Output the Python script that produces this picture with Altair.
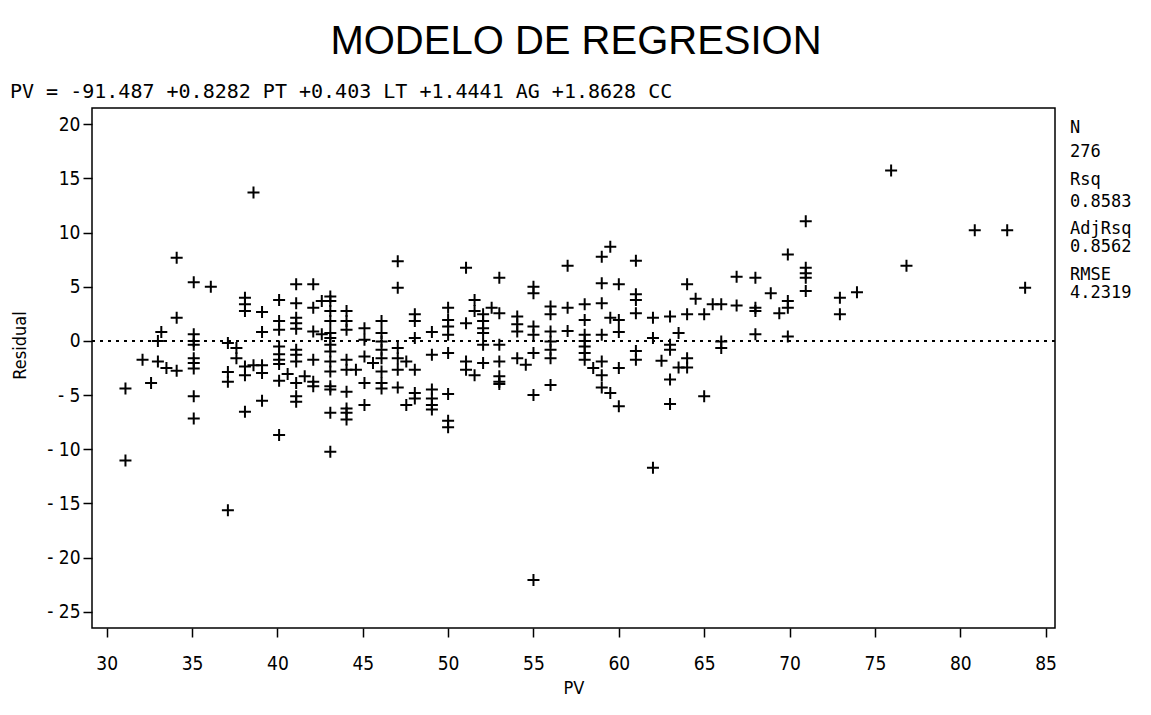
import altair as alt
import pandas as pd

# ---- data ----
pv = [38.6, 34.1, 35.1, 36.1, 34.1, 33.2, 33.0, 35.1, 35.1, 35.1,
      32.1, 33.0, 33.5, 34.1, 35.1, 35.1, 35.1, 31.1, 32.6, 35.1,
      35.1, 37.1, 37.6, 37.6, 37.1, 37.1, 38.1, 38.1, 38.1, 38.1,
      38.1, 39.1, 39.1, 38.6, 39.1, 39.1, 39.1, 38.1, 40.1, 40.1,
      40.1, 40.1, 40.1, 40.1, 40.1, 40.1, 40.1, 40.6, 41.1, 42.1,
      41.1, 41.1, 41.1, 41.1, 41.1, 41.1, 41.1, 41.1, 41.6, 41.1,
      41.1, 42.1, 42.6, 43.1, 42.1, 42.1, 42.6, 42.1, 42.1,
      43.1, 43.1, 43.1, 43.1, 43.1, 43.1, 43.1, 43.1, 43.1,
      43.1, 43.1, 43.1, 43.1,
      44.05, 44.05, 44.05, 44.05, 44.05, 44.05, 44.05, 44.05, 44.05,
      45.1, 45.1, 46.1, 46.1, 47.05, 47.55, 48.05, 48.05,
      49.05, 49.05, 49.05, 49.05, 50.0, 50.0, 50.0, 53.0, 55.0, 55.0,
      56.0, 31.1, 37.1, 44.6, 45.1, 45.1, 45.1, 45.6,
      46.1, 46.1, 46.1, 46.1, 46.1, 46.1,
      47.05, 47.05, 47.05, 47.05, 47.05, 47.55, 48.05, 48.05, 48.05, 48.05,
      49.05, 49.05, 50.0, 50.0, 50.0, 50.0, 50.0,
      51.05, 51.05, 51.05, 51.05, 51.55, 51.55, 51.55,
      52.05, 52.05, 52.05, 52.05, 52.05, 52.05, 52.55,
      53.0, 53.0, 53.0, 53.0, 53.0, 53.0,
      54.05, 54.05, 54.05, 54.05, 54.55,
      55.0, 55.0, 55.0, 55.0, 55.0,
      56.0, 56.0, 56.0, 56.0, 56.0, 56.0,
      57.0, 57.0, 57.0, 58.0, 58.0, 58.0, 58.0, 58.0, 58.0, 58.0, 58.5,
      59.0, 59.5, 59.0, 59.0, 59.5, 60.0, 59.0, 60.0, 60.0,
      59.0, 59.0, 59.0, 59.5, 60.0, 60.0,
      61.0, 61.0, 61.0, 61.0, 61.0, 61.0,
      62.0, 62.0, 62.5, 63.0, 63.0, 63.0, 63.0, 63.0, 63.5, 63.5,
      64.0, 64.0, 64.0, 64.0, 64.5, 65.0, 65.0, 65.5, 66.0, 66.0, 66.0,
      66.9, 66.9, 68.0, 68.0, 68.0, 68.0, 68.9, 69.4,
      69.9, 69.9, 69.9, 69.9,
      70.95, 70.95, 70.95, 70.95, 70.95,
      72.95, 72.95, 73.95, 75.95, 76.85, 80.85, 82.75, 83.8, 62.0]

residual = [13.70, 7.67, 5.42, 5.01, 2.15, 0.82, 0.00, 0.62, 0.00, -0.35,
            -1.73, -1.90, -2.51, -2.76, -1.59, -2.04, -2.55, -4.39, -3.88, -5.11,
            -7.15, -0.20, -0.66, -1.59, -2.86, -3.78, 3.99, 3.38, 2.76, -2.35,
            -3.17, 2.66, 0.82, -2.25, -2.25, -2.96, -5.52, -6.54, -8.68, 3.78,
            1.84, 1.02, -0.51, -1.22, -1.73, -2.14, -3.68, -3.06, 5.22, 5.22,
            3.48, 2.15, 1.64, 1.13, -0.81, -1.27, -1.90, -3.88, -3.27, -5.11,
            -5.62, 3.07, 3.68, 3.68, 0.87, -1.73, 0.62, -3.78, -4.19,
            4.09, 2.76, 1.84, 0.72, 0.26, -0.35, -0.97, -1.90, -2.82,
            -4.19, -4.49, -6.64, -10.22,
            2.76, 1.84, 1.02, -1.73, -2.65, -4.70, -6.23, -6.64, -7.25,
            -3.88, -5.92, -3.88, -4.39, -4.29, -5.92, -4.80, -5.31,
            -4.49, -5.31, -5.92, -6.33, -4.90, -7.36, -7.97, -3.98, -5.00, -22.07,
            -4.08, -11.03, -15.63, -2.65, 1.18, 0.11, -1.43, -2.04,
            1.84, 0.72, -0.05, -0.81, -1.59, -2.82,
            7.36, 4.91, -0.66, -1.59, -2.65, -1.90, 2.46, 1.84, 0.26, -2.65,
            0.82, -1.27, 3.07, 1.94, 1.33, 0.56, -1.12,
            6.75, 1.64, -1.90, -2.65, 3.78, 2.76, -3.17,
            2.46, 1.84, 1.18, 0.72, -0.35, -2.04, 3.07,
            5.83, 2.56, -0.35, -1.90, -3.27, -3.78,
            2.25, 1.54, 0.87, -1.59, -2.19,
            5.01, 4.40, 1.33, 0.56, -1.12,
            3.17, 2.46, 0.87, -0.05, -0.81, -1.59,
            6.95, 3.07, 0.92, 3.38, 1.94, 0.56, 0.00, -0.51, -1.12, -1.73, -2.51,
            7.77, 8.69, 5.32, 3.48, 2.15, 1.94, 0.56, 0.82, 5.22,
            -1.90, -3.17, -4.29, -4.80, -2.51, -6.03,
            7.41, 4.30, 3.78, 2.56, -0.92, -1.73,
            2.15, 0.26, -1.84, 2.25, -0.35, -0.81, -3.57, -5.82, 0.72, -2.45,
            -2.45, 5.22, 2.46, -1.59, 3.89, 2.46, -5.11, 3.38, 3.38, -0.05, -0.66,
            5.93, 3.27, 5.83, 3.07, 2.76, 0.62, 4.40, 2.56,
            7.97, 3.68, 3.07, 0.41,
            11.04, 6.75, 6.24, 5.83, 4.60,
            3.99, 2.46, 4.50, 15.74, 6.95, 10.22, 10.22, 4.91, -11.70]

x_ticks = [30, 35, 40, 45, 50, 55, 60, 65, 70, 75, 80, 85]
y_ticks = [-25, -20, -15, -10, -5, 0, 5, 10, 15, 20]

title_text = "MODELO DE REGRESION"
equation_text = "PV = -91.487 +0.8282 PT +0.403 LT +1.4441 AG +1.8628 CC"
stats_labels = ["N", "276", "Rsq", "0.8583", "AdjRsq", "0.8562", "RMSE", "4.2319"]
stats_y = [20, 44, 72, 94, 121, 139, 167, 185]

W, H = 963, 520
COND = "'Liberation Sans Narrow', 'DejaVu Sans Condensed', 'Roboto Condensed', 'Liberation Sans', sans-serif"
MONO = "'DejaVu Sans Mono', 'Liberation Mono', monospace"

df = pd.DataFrame({"PV": pv, "Residual": residual})

plus = "M-1,0H1M0,-1V1"

points = alt.Chart(df).mark_point(
    shape=plus, size=144, filled=False, color="black", strokeWidth=2, opacity=1
).encode(
    x=alt.X("PV:Q",
            scale=alt.Scale(domain=[29.14, 85.55], nice=False, zero=False),
            axis=alt.Axis(values=x_ticks, title="PV", titleY=60,
                          titleBaseline="middle", labelPadding=17)),
    y=alt.Y("Residual:Q",
            scale=alt.Scale(domain=[-26.5, 21.5], nice=False, zero=False),
            axis=alt.Axis(values=y_ticks, title="Residual", titleX=-72, titleY=237,
                          titleBaseline="middle", labelPadding=3,
                          labelExpr="datum.value < 0 ? '- ' + (-datum.value) : datum.label")),
)

zero_line = alt.Chart(pd.DataFrame({"z": [0]})).mark_rule(
    color="black", strokeDash=[3, 5], strokeWidth=2
).encode(y="z:Q")

title = alt.Chart(pd.DataFrame({"t": [title_text]})).mark_text(
    font="'Liberation Sans', Arial, sans-serif", fontSize=40, align="center",
    baseline="alphabetic", color="black"
).encode(text="t:N", x=alt.value(484), y=alt.value(-54))

equation = alt.Chart(pd.DataFrame({"t": [equation_text]})).mark_text(
    font=MONO, fontSize=20, align="left", baseline="alphabetic", color="black"
).encode(text="t:N", x=alt.value(-82), y=alt.value(-10))

stats_layers = []
for lab, yy in zip(stats_labels, stats_y):
    stats_layers.append(
        alt.Chart(pd.DataFrame({"t": [lab]})).mark_text(
            font=MONO, fontSize=17, align="left", baseline="middle", color="black"
        ).encode(text="t:N", x=alt.value(978), y=alt.value(yy))
    )

chart = alt.layer(zero_line, points, title, equation, *stats_layers).properties(
    width=W, height=H,
    background="white",
    autosize=alt.AutoSizeParams(type="none"),
    padding={"left": 84, "top": 100, "right": 88, "bottom": 79},
).configure_view(
    stroke="black", strokeWidth=1.5
).configure_axis(
    domain=False, grid=False, ticks=True, tickColor="black", tickWidth=1.5,
    tickSize=9, labelColor="black", labelFont=COND, labelFontSize=19,
    titleColor="black", titleFont=COND, titleFontSize=18, titleFontWeight="normal",
)

chart.save("out.html", embed_options={"renderer": "svg", "actions": False})
